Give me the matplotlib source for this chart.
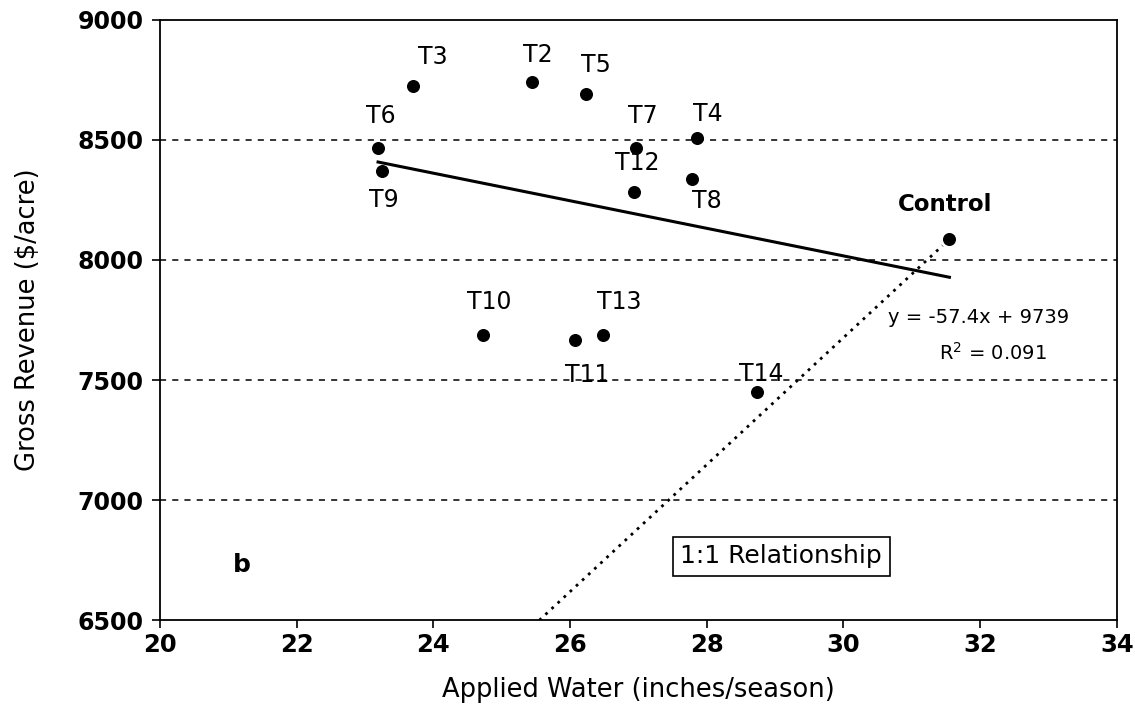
import numpy as np
import matplotlib
matplotlib.use("Agg")
import matplotlib.pyplot as plt

# treatments: applied water (in/season) vs gross revenue ($/acre)
labels = ["T2", "T3", "T4", "T5", "T6", "T7", "T8", "T9", "T10",
          "T11", "T12", "T13", "T14", "Control"]
water = [25.44, 23.70, 27.85, 26.23, 23.19, 26.96, 27.78, 23.25, 24.72,
         26.07, 26.94, 26.48, 28.73, 31.55]
revenue = [8742, 8725, 8508, 8692, 8467, 8467, 8337, 8371, 7687,
           7667, 8283, 7687, 7450, 8088]

# label offsets in points (dx, dy)
offsets = {"T2": (4, 19), "T3": (14, 21), "T4": (8, 17), "T5": (7, 21),
           "T6": (2, 23), "T7": (5, 23), "T8": (11, -16), "T9": (1, -21),
           "T10": (5, 24), "T11": (9, -25), "T12": (2, 21), "T13": (12, 24),
           "T14": (3, 13), "Control": (-3, 25)}

# 1:1 relationship line end points
ref_x = [25.55, 31.45]
ref_y = [6500, 8060]

slope, intercept = -57.4, 9739

plt.rcParams['font.family'] = ['DejaVu Sans']
fig = plt.figure(figsize=(11.35, 7.08), dpi=100)
ax = fig.add_axes([0.141, 0.124, 0.843, 0.848])

for yv in [7000, 7500, 8000, 8500]:
    ax.axhline(yv, color='black', ls=(0, (4, 4)), lw=1.1, zorder=1)

ax.scatter(water, revenue, s=70, color='black', zorder=3)

xf = np.array([min(water), max(water)])
ax.plot(xf, slope * xf + intercept, color='black', lw=2.2, zorder=2)
ax.plot(ref_x, ref_y, color='black', ls=(0, (1, 2)), lw=2, zorder=2)

for lab, xv, yv in zip(labels, water, revenue):
    dx, dy = offsets[lab]
    ax.annotate(lab, (xv, yv), xytext=(dx, dy), textcoords='offset points',
                ha='center', va='center',
                fontsize=16.5 if lab == "Control" else 17,
                fontweight='bold' if lab == "Control" else 'normal')

ax.text(31.98, 7760, "y = -57.4x + 9739", ha='center', va='center', fontsize=14)
ax.text(32.19, 7612, "R$^2$ = 0.091", ha='center', va='center', fontsize=14)
ax.text(29.09, 6767, "1:1 Relationship", ha='center', va='center', fontsize=18,
        bbox=dict(boxstyle='square,pad=0.3', fc='white', ec='black', lw=1.2))
ax.text(21.2, 6730, "b", ha='center', va='center', fontsize=18, fontweight='bold')

ax.set_xlim(20, 34)
ax.set_ylim(6500, 9000)
ax.set_xticks(np.arange(20, 35, 2))
ax.set_yticks(np.arange(6500, 9001, 500))
ax.tick_params(axis='both', direction='out', length=6, width=1.2)
ax.tick_params(axis='x', labelsize=17.5)
ax.tick_params(axis='y', labelsize=17, pad=6)
for t in ax.get_xticklabels() + ax.get_yticklabels():
    t.set_fontweight('bold')
for s in ax.spines.values():
    s.set_linewidth(1.3)

ax.set_xlabel("Applied Water (inches/season)", fontsize=18.5, labelpad=14)
ax.set_ylabel("Gross Revenue ($/acre)", fontsize=18.5, labelpad=26)

fig.savefig("out.png", dpi=100)
